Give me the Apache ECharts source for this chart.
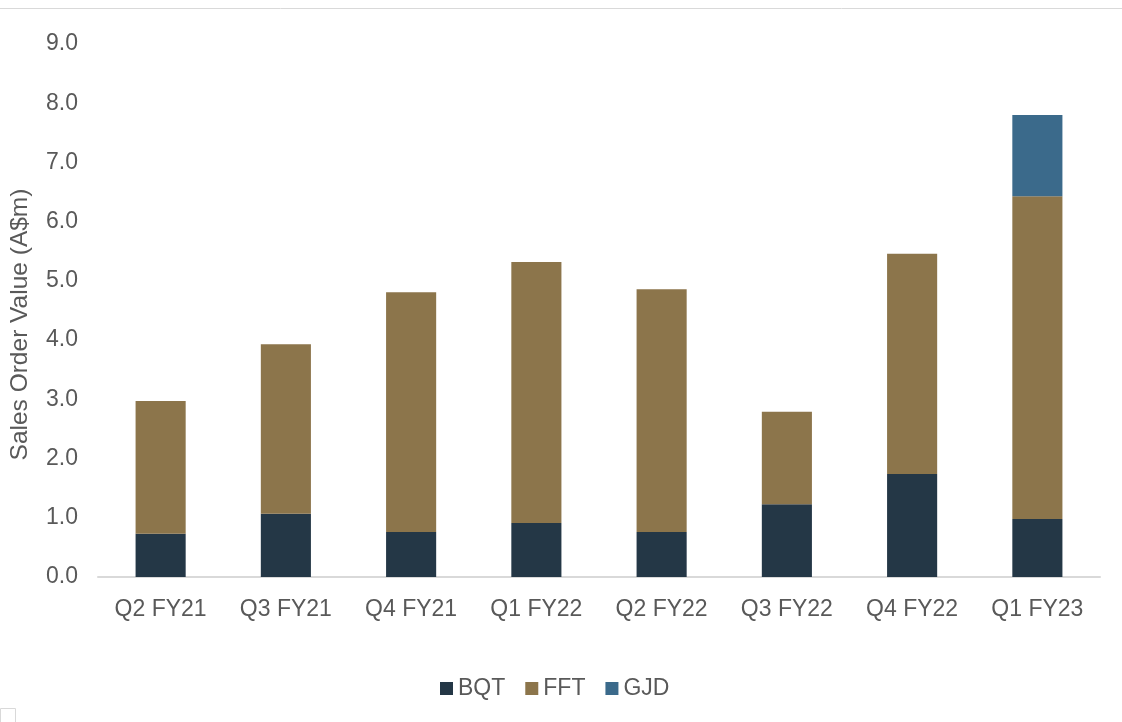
<!DOCTYPE html>
<html>
<head>
<meta charset="utf-8">
<script src="https://cdn.jsdelivr.net/npm/echarts@6/dist/echarts.min.js"></script>
<style>
html,body{margin:0;padding:0;background:#fff;}
#chart{width:1122px;height:722px;}
</style>
</head>
<body>
<div id="chart"></div>
<script>
const categories = ['Q2 FY21','Q3 FY21','Q4 FY21','Q1 FY22','Q2 FY22','Q3 FY22','Q4 FY22','Q1 FY23'];
const bqt = [0.73, 1.07, 0.76, 0.91, 0.76, 1.23, 1.74, 0.98];
const fft = [2.24, 2.86, 4.05, 4.41, 4.10, 1.56, 3.72, 5.45];
const gjd = [0, 0, 0, 0, 0, 0, 0, 1.37];
const yTicks = { min: 0, max: 9, interval: 1 };

const chart = echarts.init(document.getElementById('chart'), null, {renderer:'canvas'});
const font = 'Liberation Sans, Arial, sans-serif';
const mk = (name, data, color) => ({
  name, type:'bar', stack:'total', data, barWidth:'40%',
  itemStyle:{color}, emphasis:{disabled:true}
});
chart.setOption({
  animation:false,
  textStyle:{fontFamily:font},
  grid:{left:97, right:22, top:44, bottom:145, containLabel:false},
  graphic:[
    {type:'line', shape:{x1:0,y1:8.5,x2:1122,y2:8.5}, style:{stroke:'#d9d9d9', lineWidth:1}},
    {type:'rect', shape:{x:0.5,y:708.5,width:15,height:14}, style:{fill:'none', stroke:'#d9d9d9', lineWidth:1}}
  ],
  legend:{
    bottom:17, left:435, itemWidth:13, itemHeight:13, itemGap:20,
    icon:'rect',
    textStyle:{fontSize:23, color:'#595959', fontFamily:font, padding:[0,0,0,0]},
    data:['BQT','FFT','GJD']
  },
  xAxis:{
    type:'category', data:categories,
    axisLine:{lineStyle:{color:'#d9d9d9', width:2}},
    axisTick:{show:false},
    axisLabel:{fontSize:23, color:'#595959', margin:21, fontFamily:font}
  },
  yAxis:{
    type:'value', min:yTicks.min, max:yTicks.max, interval:yTicks.interval,
    name:'Sales Order Value (A$m)', nameLocation:'middle', nameGap:65,
    nameTextStyle:{fontSize:24.5, color:'#595959', fontFamily:font, padding:[0,28,0,0]},
    splitLine:{show:false},
    axisLine:{show:false}, axisTick:{show:false},
    axisLabel:{fontSize:23, color:'#595959', margin:20, fontFamily:font,
      formatter:v=>v.toFixed(1)}
  },
  series:[
    mk('BQT', bqt, '#243746'),
    mk('FFT', fft, '#8c754b'),
    mk('GJD', gjd, '#3b6a8b')
  ]
});
</script>
</body>
</html>
